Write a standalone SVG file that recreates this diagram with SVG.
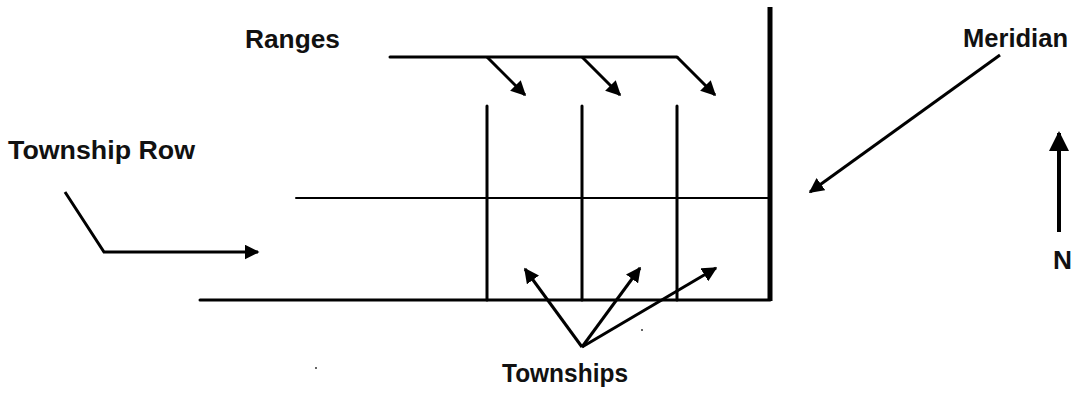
<svg xmlns="http://www.w3.org/2000/svg" width="1079" height="393" viewBox="0 0 1079 393">
<defs>
<marker id="ah" viewBox="0 0 10 10" refX="9" refY="5" markerWidth="5" markerHeight="5" markerUnits="strokeWidth" orient="auto">
<path d="M0,0 L10,5 L0,10 z" fill="#000"/>
</marker>
<style>
.lbl{font-family:"Liberation Sans",Arial,sans-serif;font-weight:bold;font-size:25px;fill:#111}
.ln{stroke:#000;stroke-width:3;fill:none;stroke-linecap:round}
.ar{stroke:#000;stroke-width:3;fill:none;marker-end:url(#ah)}
</style>
</defs>
<rect width="1079" height="393" fill="#fff"/>
<g id="grid">
<line class="ln" x1="296" y1="198" x2="770" y2="198" style="stroke-width:2"/>
<line class="ln" x1="200" y1="300" x2="770" y2="300"/>
<line class="ln" x1="487" y1="106" x2="487" y2="300"/>
<line class="ln" x1="582" y1="106" x2="582" y2="300"/>
<line class="ln" x1="677" y1="106" x2="677" y2="300"/>
</g>
<g id="meridian-line">
<line x1="770" y1="7" x2="770" y2="301" stroke="#000" stroke-width="5"/>
</g>
<g id="ranges">
<text class="lbl" x="245" y="48" textLength="95" lengthAdjust="spacingAndGlyphs">Ranges</text>
</g>
<g id="township-row">
<text class="lbl" x="8" y="159" textLength="187" lengthAdjust="spacingAndGlyphs">Township Row</text>
</g>
<g id="meridian">
<text class="lbl" x="963" y="47" textLength="105" lengthAdjust="spacingAndGlyphs">Meridian</text>
</g>
<g id="townships">
<text class="lbl" x="502" y="382" textLength="126" lengthAdjust="spacingAndGlyphs">Townships</text>
</g>
<g id="north">
<text class="lbl" x="1053" y="269" textLength="19" lengthAdjust="spacingAndGlyphs">N</text>
</g>
<g id="connectors">
<line class="ln" x1="390" y1="57" x2="677" y2="57"/>
<line class="ar" x1="487" y1="57" x2="525" y2="95"/>
<line class="ar" x1="582" y1="57" x2="620" y2="95"/>
<line class="ar" x1="677" y1="57" x2="715" y2="95"/>
<polyline class="ar" points="65,192 104,252 258,252"/>
<line class="ar" x1="582" y1="347" x2="525" y2="269"/>
<line class="ar" x1="582" y1="347" x2="640" y2="268"/>
<line class="ar" x1="582" y1="347" x2="716" y2="268"/>
<line class="ar" x1="1000" y1="55" x2="810" y2="192"/>
<line x1="1059" y1="232" x2="1059" y2="133" stroke="#000" stroke-width="4" marker-end="url(#ah)"/>
</g>
<circle cx="642" cy="330" r="1" fill="#333"/>
<circle cx="316" cy="368" r="1" fill="#333"/>
</svg>
